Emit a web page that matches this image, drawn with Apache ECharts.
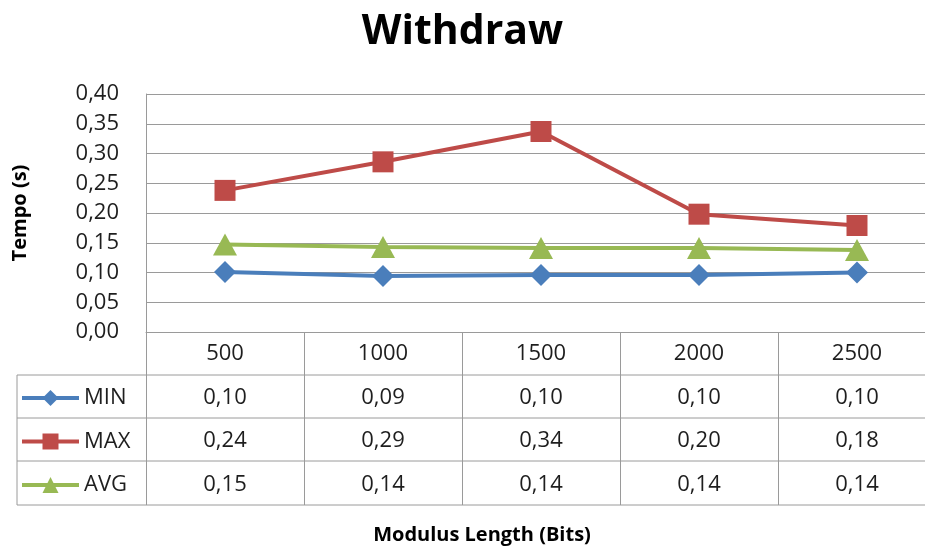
<!DOCTYPE html>
<html>
<head>
<meta charset="utf-8">
<script src="https://cdn.jsdelivr.net/npm/echarts@6/dist/echarts.min.js"></script>
<style>
  html, body { margin: 0; padding: 0; background: #fff; }
  #chart { width: 925px; height: 547px; }
</style>
</head>
<body>
<div id="chart"></div>
<script>
const categories = ['500', '1000', '1500', '2000', '2500']
const minValues = [0.101, 0.094, 0.096, 0.096, 0.100]
const maxValues = [0.238, 0.286, 0.337, 0.198, 0.179]
const avgValues = [0.147, 0.143, 0.141, 0.141, 0.138]
const seriesNames = ['MIN', 'MAX', 'AVG']

const fmt = v => v.toFixed(2).replace('.', ',')
const font = 'Open Sans'
const gridColor = '#9a9a9a'
const textColor = '#1e1e1e'

const chart = echarts.init(document.getElementById('chart'), null, { renderer: 'canvas' })

// each x label is a table column: header + one row per series
const columnLabel = (value, i) =>
  [value, fmt(minValues[i]), fmt(maxValues[i]), fmt(avgValues[i])].join('\n')

const rowLines = [375, 418, 461, 505].map(y => ({
  type: 'line',
  shape: { x1: 17, y1: y, x2: 925, y2: y },
  style: { stroke: gridColor, lineWidth: 1 },
  silent: true,
}))

chart.setOption({
  animation: false,
  backgroundColor: '#fff',
  textStyle: { fontFamily: font },
  title: {
    text: 'Withdraw',
    left: 'center',
    top: 7,
    textStyle: { fontFamily: font, fontSize: 41, fontWeight: 'bold', color: '#000' },
  },
  legend: {
    orient: 'vertical',
    left: 15,
    top: 382,
    itemWidth: 57,
    itemHeight: 20,
    itemGap: 21.5,
    data: seriesNames,
    lineStyle: { width: 4 },
    textStyle: { fontFamily: font, fontSize: 22, color: textColor },
  },
  grid: { left: 146, right: -11, top: 94, bottom: 215, outerBoundsMode: 'none' },
  xAxis: {
    type: 'category',
    data: categories,
    boundaryGap: true,
    name: 'Modulus Length (Bits)',
    nameLocation: 'middle',
    nameGap: 193,
    nameTextStyle: {
      fontFamily: font, fontSize: 20, fontWeight: 'bold', color: '#000',
      padding: [0, 118, 0, 0],
    },
    axisLine: { lineStyle: { color: gridColor, width: 1 } },
    axisTick: { show: true, length: 173, lineStyle: { color: gridColor, width: 1 } },
    axisLabel: {
      interval: 0,
      margin: 0,
      fontSize: 22,
      lineHeight: 43.5,
      verticalAlign: 'top',
      color: textColor,
      formatter: columnLabel,
    },
  },
  yAxis: {
    type: 'value',
    min: 0,
    max: 0.4,
    interval: 0.05,
    name: 'Tempo (s)',
    nameLocation: 'middle',
    nameRotate: 90,
    nameGap: 116,
    nameTextStyle: { fontFamily: font, fontSize: 20, fontWeight: 'bold', color: '#000' },
    axisLine: { show: true, lineStyle: { color: gridColor, width: 1 } },
    axisTick: { show: false },
    axisLabel: { margin: 27, fontSize: 22, color: textColor, formatter: fmt },
    splitLine: { lineStyle: { color: gridColor, width: 1 } },
  },
  graphic: rowLines.concat([{
    type: 'line',
    shape: { x1: 17, y1: 375, x2: 17, y2: 505 },
    style: { stroke: gridColor, lineWidth: 1 },
    silent: true,
  }]),
  series: [
    {
      name: 'MIN', type: 'line', data: minValues,
      symbol: 'diamond', symbolSize: 22,
      lineStyle: { color: '#4a7ebb', width: 4 },
      itemStyle: { color: '#4a7ebb' },
    },
    {
      name: 'MAX', type: 'line', data: maxValues,
      symbol: 'rect', symbolSize: 21,
      lineStyle: { color: '#be4b48', width: 4 },
      itemStyle: { color: '#be4b48' },
    },
    {
      name: 'AVG', type: 'line', data: avgValues,
      symbol: 'triangle', symbolSize: [24, 22],
      lineStyle: { color: '#98b954', width: 4 },
      itemStyle: { color: '#98b954' },
    },
  ],
})
</script>
</body>
</html>
